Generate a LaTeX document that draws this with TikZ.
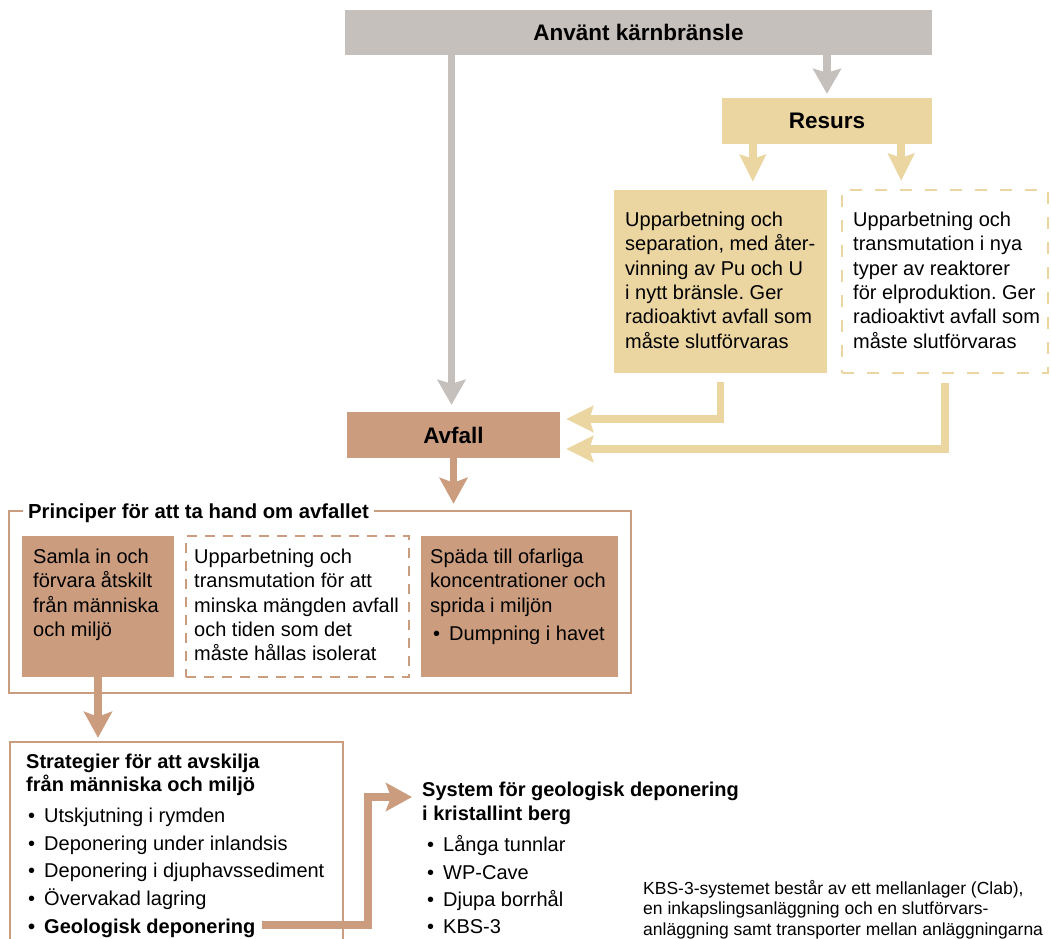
\documentclass[tikz,border=0pt]{standalone}
\usepackage{fontspec}
\setmainfont{Liberation Sans}
\usetikzlibrary{arrows.meta}
\frenchspacing

\definecolor{fuelgray}{HTML}{C6C0BC}
\definecolor{restan}{HTML}{EBD5A1}
\definecolor{wastebrown}{HTML}{CB9D7E}

\newcommand{\bodyfont}{\fontsize{20}{24.4}\selectfont}
\newcommand{\headfont}{\fontsize{22.5}{26}\selectfont\bfseries}
\newcommand{\notefont}{\fontsize{17.5}{20.5}\selectfont}
\newcommand{\blt}{\textbullet\hspace{9pt}}

\tikzset{
  graybox/.style={fill=fuelgray, inner sep=0pt, font=\headfont},
  tanbox/.style={fill=restan, inner sep=0pt},
  tandash/.style={draw=restan, line width=2.5pt, dash pattern=on 12pt off 13pt, inner sep=0pt},
  brownbox/.style={fill=wastebrown, inner sep=0pt},
  browndash/.style={draw=wastebrown, line width=2.5pt, dash pattern=on 10pt off 8pt, inner sep=0pt},
  brownframe/.style={draw=wastebrown, line width=2.5pt, inner sep=0pt},
  txt/.style={inner sep=0pt, anchor=north west, align=left, font=\bodyfont},
  line/.style={inner sep=0pt, anchor=base west, font=\bodyfont},
  grayarrow/.style={draw=fuelgray, line width=7.5pt, -{Stealth[width=28pt,length=25pt,inset=4pt]}},
  tanarrow/.style={draw=restan, line width=7.5pt, -{Stealth[width=26pt,length=27pt,inset=4pt]}},
  brownarrow/.style={draw=wastebrown, line width=7.5pt, -{Stealth[width=28pt,length=26pt,inset=5pt]}},
}

\begin{document}
\begin{tikzpicture}[x=1pt,y=-1pt]
  %\draw[lightgray] (0,0) grid[step=50] (1051,938);
  \useasboundingbox (0,0) rectangle (1051,938);
  \clip (0,0) rectangle (1051,938);

  \node[graybox, minimum width=587pt, minimum height=45pt] (fuel) at (638.5,32.5) {Använt kärnbränsle};
  \node[graybox, fill=restan, minimum width=210pt, minimum height=46pt] (resurs) at (827,121) {Resurs};
  \node[tanbox, minimum width=213pt, minimum height=183pt] (upp) at (720.5,281.5) {};
  \node[tandash, minimum width=206pt, minimum height=183pt] (trans) at (945,281.5) {};
  \node[txt] (upptxt) at (625,211.5) {Upparbetning och\\separation, med åter-\\vinning av Pu och U\\i nytt bränsle. Ger\\radioaktivt avfall som\\måste slutförvaras};
  \node[txt] (transtxt) at (853,211.5) {Upparbetning och\\transmutation i nya\\typer av reaktorer\\för elproduktion. Ger\\radioaktivt avfall som\\måste slutförvaras};
  \node[graybox, fill=wastebrown, minimum width=213pt, minimum height=46pt] (avfall) at (453.5,435) {Avfall};

  \draw[grayarrow, shorten >=7pt] ([xshift=-2pt]fuel.south -| avfall.north) -- ([xshift=-2pt]avfall.north);
  \draw[grayarrow, shorten >=4pt] (fuel.south -| resurs.north) -- (resurs.north);
  \coordinate (r1) at ([xshift=31pt]resurs.south west);
  \coordinate (r2) at ([xshift=-31pt]resurs.south east);
  \draw[tanarrow, shorten >=8pt] (r1) -- (r1 |- upp.north);
  \draw[tanarrow, shorten >=8pt] (r2) -- (r2 |- trans.north);
  \draw[tanarrow, shorten <=9pt, shorten >=6pt] (upp.south) |- ([yshift=16pt]avfall.east);
  \draw[tanarrow, shorten <=9pt, shorten >=6pt] (trans.south) |- ([yshift=-14pt]avfall.east);

  \node[brownframe, minimum width=622pt, minimum height=182pt] (frame) at (320,602) {};
  \node[line, fill=white, inner xsep=5pt, font=\fontsize{20.3}{24}\selectfont\bfseries] (ptitle) at (23,518) {Principer för att ta hand om avfallet};
  \node[brownbox, minimum width=152pt, minimum height=141pt] (samla) at (98,606.5) {};
  \node[browndash, minimum width=223pt, minimum height=141pt] (minska) at (297.5,606.5) {};
  \node[brownbox, minimum width=197pt, minimum height=141pt] (spada) at (519.5,606.5) {};
  \node[txt] (samlatxt) at (33,548.5) {Samla in och\\förvara åtskilt\\från människa\\och miljö};
  \node[txt] (minskatxt) at (194,548.5) {Upparbetning och\\transmutation för att\\minska mängden avfall\\och tiden som det\\måste hållas isolerat};
  \node[txt] (spadatxt) at (430,548.5) {Späda till ofarliga\\koncentrationer och\\sprida i miljön};
  \node[line] (dump) at (433,640) {\blt Dumpning i havet};

  \draw[brownarrow, shorten >=6pt] (avfall.south) -- (avfall.south |- frame.north);

  \node[brownframe, minimum width=333pt, minimum height=218pt] (strat) at (176.5,851) {};
  \draw[brownarrow, shorten >=3pt] (samla.south) -- (samla.south |- strat.north);
  \node[txt, font=\fontsize{20}{23}\selectfont\bfseries] (strattitle) at (26,753.5) {Strategier för att avskilja\\från människa och miljö};
  \node[line] (space) at (28,822) {\blt Utskjutning i rymden};
  \node[line] (ice) at (28,850) {\blt Deponering under inlandsis};
  \node[line] (sea) at (28,877) {\blt Deponering i djuphavssediment};
  \node[line] (watch) at (28,905) {\blt Övervakad lagring};
  \node[line, font=\bodyfont\bfseries] (geo) at (28,933) {\blt Geologisk deponering};

  \node[txt, font=\fontsize{20}{24}\selectfont\bfseries] (systitle) at (422,781.5) {System för geologisk deponering\\i kristallint berg};
  \node[line] (tunnel) at (427,851) {\blt Långa tunnlar};
  \node[line] (cave) at (427,879) {\blt WP-Cave};
  \node[line] (hole) at (427,906) {\blt Djupa borrhål};
  \node[line] (kbs) at (427,933) {\blt KBS-3};

  \coordinate (knee) at (368,797);
  \draw[brownarrow, shorten >=10pt] ([xshift=6pt,yshift=3pt]geo.east) -| (knee) -- (knee -| systitle.west);

  \node[txt, font=\notefont] (note) at (643,880) {KBS-3-systemet består av ett mellanlager (Clab),\\en inkapslingsanläggning och en slutförvars-\\anläggning samt transporter mellan anläggningarna};
\end{tikzpicture}
\end{document}
